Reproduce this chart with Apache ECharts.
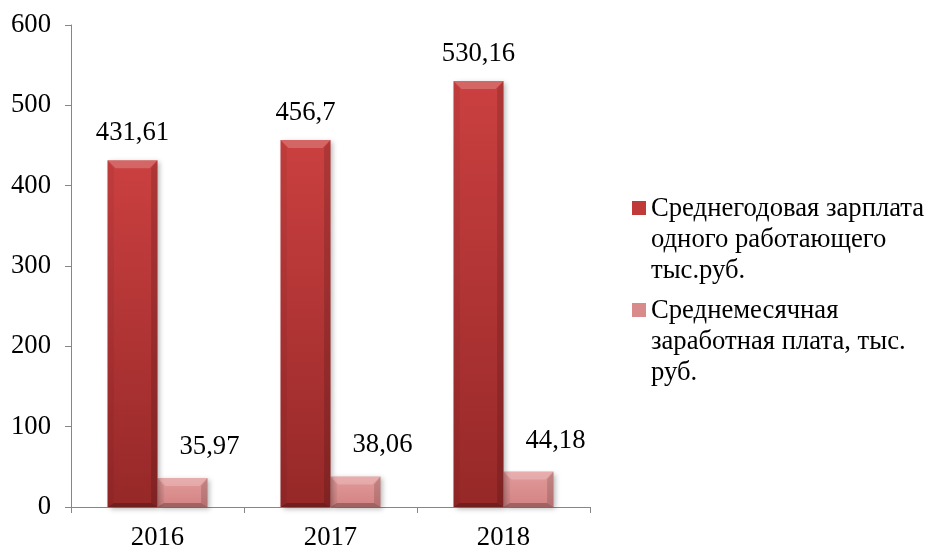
<!DOCTYPE html>
<html>
<head>
<meta charset="utf-8">
<script src="https://cdn.jsdelivr.net/npm/echarts@6/dist/echarts.min.js"></script>
<style>
  html, body { margin: 0; padding: 0; background: #ffffff; }
  #chart { width: 928px; height: 551px; }
</style>
</head>
<body>
<div id="chart"></div>
<script>
// Salary figures by year (thousand roubles)
const years = ['2016', '2017', '2018'];
const annualSalary = [431.61, 456.7, 530.16];
const monthlySalary = [35.97, 38.06, 44.18];
const seriesNames = [
  'Среднегодовая зарплата\nодного работающего\nтыс.руб.',
  'Среднемесячная\nзаработная плата, тыс.\nруб.'
];
const yTicks = { min: 0, max: 600, step: 100 };

const FONT = 'Liberation Serif';
const FONT_SIZE = 26.67;         // 20pt
const BAR_FRACTION = 50 / 173;   // bar width relative to category band
const LINE_H = 31;               // legend line height

const palettes = [
  { top: '#cb4040', bottom: '#962828', legend: '#c13a3a', bevel: 8 },
  { top: '#e29a9a', bottom: '#d38383', legend: '#d98b8b', bevel: 8 }
];
const labelShift = [
  { dx: 0, dy: 27 },
  { dx: 27, dy: 31 }
];

function fmt(v) {
  return String(v).replace('.', ',');
}

// Bevelled bar: body + four edge facets + value label
function makeRenderer(seriesIndex) {
  return function (params, api) {
    const ci = api.value(0);
    const v = api.value(1);
    const topPt = api.coord([ci, v]);
    const basePt = api.coord([ci, 0]);
    const band = api.size([1, 0])[0];
    const w = band * BAR_FRACTION;
    const cx = topPt[0];
    const x0 = seriesIndex === 0 ? cx - w : cx;
    const x1 = x0 + w;
    const y0 = topPt[1];
    const y1 = basePt[1];
    const pal = palettes[seriesIndex];
    const b = Math.min(pal.bevel, (y1 - y0) / 2, w / 2);
    const bb = Math.min(4, b);   // thinner lower facet

    const facet = (pts, fill) => ({
      type: 'polygon',
      shape: { points: pts },
      style: { fill: fill },
      silent: true
    });

    const children = [
      {
        type: 'rect',
        shape: { x: x0, y: y0, width: w, height: y1 - y0 },
        style: {
          fill: new echarts.graphic.LinearGradient(0, 0, 0, 1, [
            { offset: 0, color: pal.top },
            { offset: 1, color: pal.bottom }
          ]),
          shadowBlur: 5,
          shadowOffsetX: 2,
          shadowOffsetY: 2,
          shadowColor: 'rgba(0,0,0,0.28)'
        }
      },
      facet([[x0, y0], [x1, y0], [x1 - b, y0 + b], [x0 + b, y0 + b]], 'rgba(255,255,255,0.2)'),
      facet([[x0, y0], [x0 + b * 0.8, y0 + b], [x0 + b * 0.8, y1 - bb], [x0, y1]], 'rgba(0,0,0,0.05)'),
      facet([[x1, y0], [x1 - b * 0.8, y0 + b], [x1 - b * 0.8, y1 - bb], [x1, y1]], 'rgba(0,0,0,0.14)'),
      facet([[x0, y1], [x1, y1], [x1 - b * 0.8, y1 - bb], [x0 + b * 0.8, y1 - bb]], 'rgba(0,0,0,0.25)'),
      {
        type: 'text',
        style: {
          text: fmt(v),
          x: (x0 + x1) / 2 + labelShift[seriesIndex].dx,
          y: y0 - labelShift[seriesIndex].dy,
          align: 'center',
          verticalAlign: 'middle',
          fill: '#000',
          fontFamily: FONT,
          fontSize: FONT_SIZE
        },
        silent: true
      }
    ];
    return { type: 'group', children: children };
  };
}

// Legend key: a small square placed beside the first text line of a three-line entry.
// Tiny corner specks stretch the path's box to the full entry height.
const blockH = LINE_H * 3;
const keyTop = 8;
const legendKeyPath = 'path://' +
  'M0,' + keyTop + 'H14V' + (keyTop + 14) + 'H0Z' +
  'M0,0H0.01V0.01H0Z' +
  'M0,' + blockH + 'H0.01V' + (blockH - 0.01) + 'H0Z';

const chart = echarts.init(document.getElementById('chart'), null, { renderer: 'canvas' });

chart.setOption({
  animation: false,
  backgroundColor: '#ffffff',
  grid: { left: 71, right: 338, top: 25, bottom: 40, containLabel: false },
  legend: {
    show: true,
    orient: 'vertical',
    left: 632,
    top: 193,
    padding: 0,
    itemGap: 9,
    itemWidth: 14,
    itemHeight: blockH,
    selectedMode: false,
    data: seriesNames.map((n, i) => ({
      name: n,
      icon: legendKeyPath,
      itemStyle: { color: palettes[i].legend }
    })),
    textStyle: {
      fontFamily: FONT,
      fontSize: FONT_SIZE,
      lineHeight: LINE_H,
      color: '#000'
    }
  },
  xAxis: {
    type: 'category',
    data: years,
    boundaryGap: true,
    axisLine: { show: true, lineStyle: { color: '#868686', width: 1 } },
    axisTick: { show: true, length: 6, alignWithLabel: false, lineStyle: { color: '#868686' } },
    axisLabel: { color: '#000', fontFamily: FONT, fontSize: FONT_SIZE, margin: 17 },
    splitLine: { show: false }
  },
  yAxis: {
    type: 'value',
    min: yTicks.min,
    max: yTicks.max,
    interval: yTicks.step,
    axisLine: { show: true, lineStyle: { color: '#868686', width: 1 } },
    axisTick: { show: true, length: 6, lineStyle: { color: '#868686' } },
    axisLabel: { color: '#000', fontFamily: FONT, fontSize: FONT_SIZE, margin: 20 },
    splitLine: { show: false }
  },
  series: [
    {
      name: seriesNames[0],
      type: 'custom',
      renderItem: makeRenderer(0),
      encode: { x: 0, y: 1 },
      itemStyle: { color: palettes[0].legend },
      data: annualSalary.map((v, i) => [i, v]),
      z: 3
    },
    {
      name: seriesNames[1],
      type: 'custom',
      renderItem: makeRenderer(1),
      encode: { x: 0, y: 1 },
      itemStyle: { color: palettes[1].legend },
      data: monthlySalary.map((v, i) => [i, v]),
      z: 2
    }
  ]
});
</script>
</body>
</html>
